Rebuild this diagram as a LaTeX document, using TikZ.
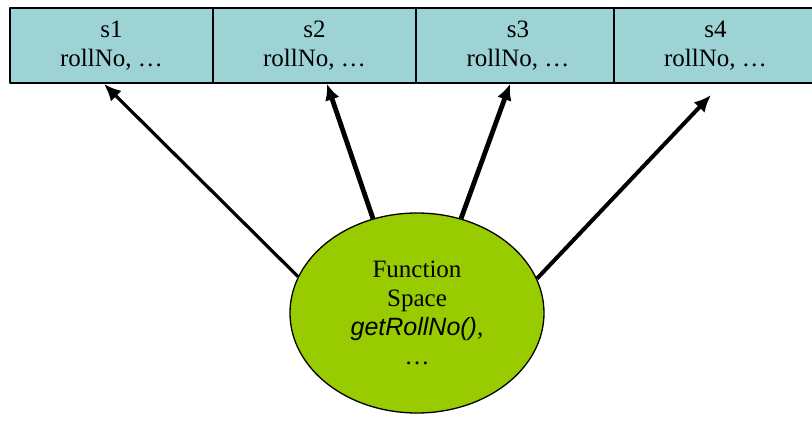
\documentclass[tikz,border=0pt]{standalone}
\usepackage{fontspec}
\setmainfont{Liberation Serif}
\newfontfamily\arialfont{Liberation Sans}
\usetikzlibrary{shapes.geometric,arrows.meta}
\definecolor{cellcyan}{RGB}{158,211,214}
\definecolor{spacegreen}{RGB}{153,204,0}
\begin{document}
\begin{tikzpicture}[x=1pt, y=-1pt, line join=round, font=\fontsize{25}{29}\selectfont,
		cell/.style={draw, line width=1.3pt, fill=cellcyan, minimum width=203pt, minimum height=75pt, inner sep=0pt, align=center},
		ptr/.style={line width=3.2pt, -{Latex[length=17pt, width=15pt]}},
		ptrbold/.style={line width=4.8pt, -{Latex[length=16pt, width=15pt]}}]
			\useasboundingbox (0,0) rectangle (812,426);
			% student objects
			\node[cell] (s1) at (111.5,45.5) {s1\\rollNo, …};
			\node[cell] (s2) at (314.5,45.5) {s2\\rollNo, …};
			\node[cell] (s3) at (518,45.5) {s3\\rollNo, …};
			\node[cell] (s4) at (715.5,45.5) {s4\\rollNo, …};
			% shared function space
			\node[ellipse, draw, line width=1.3pt, fill=spacegreen, minimum width=254pt, minimum height=200pt, inner sep=0pt, align=center] (fs) at (417,313)
				{Function\\Space\\{\arialfont\itshape getRollNo()},\\…};
			\coordinate (t1) at (104,84);
			\coordinate (t2) at (327,84);
			\coordinate (t3) at (510,84);
			\coordinate (t4) at (711,95);
			\draw[ptr] (fs.163.7) -- (t1);
			\draw[ptrbold] (fs.115.3) -- (t2);
			\draw[ptrbold] (fs.65) -- (t3);
			\draw[ptr, line width=4pt] (fs.16.6) -- (t4);
		\end{tikzpicture}
\end{document}
